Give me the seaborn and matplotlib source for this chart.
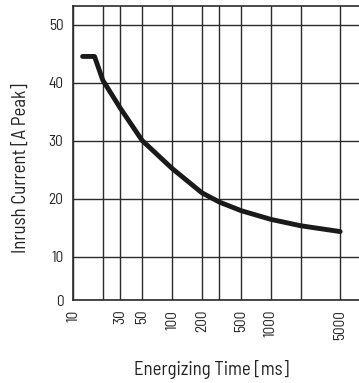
import matplotlib
matplotlib.use("Agg")
import matplotlib.pyplot as plt
import seaborn as sns
import pandas as pd

# values
time_ms = [12.5, 16.5, 20, 30, 50, 100, 200, 300, 500, 1000, 2000, 5000]
current_a = [44.5, 44.5, 40.4, 35.6, 30.0, 25.2, 21.0, 19.4, 17.9, 16.4, 15.3, 14.3]

x_grid = [10, 20, 30, 50, 100, 200, 300, 500, 1000, 2000, 5000]
x_labels = ["10", "", "30", "50", "100", "200", "", "500", "1000", "", "5000"]
y_labels = ["0", "10", "20", "30", "40", "50"]

sns.set_style("white")
plt.rcParams["font.family"] = ["Barlow Semi Condensed", "DejaVu Sans"]

df = pd.DataFrame({"time": time_ms, "current": current_a})

fig = plt.figure(figsize=(3.59, 3.83), dpi=100)
ax = fig.add_axes([73 / 359, 1 - 300 / 383, 1 - 73 / 359, 294 / 383])
sns.lineplot(data=df, x="time", y="current", ax=ax, color="#1a1a1a", linewidth=3.5)

ax.set_xscale("log")
ax.set_xlim(10, 7750)
ax.set_ylim(2.5, 53.2)
ax.set_xticks(x_grid)
ax.set_xticklabels(x_labels, rotation=90)
ax.minorticks_off()
ax.set_yticks([2.5, 10, 20, 30, 40, 50])
ax.set_yticklabels(y_labels)
ax.grid(True, color="#2b2b2b", linewidth=1.0)
ax.tick_params(length=0, labelsize=11, colors="#222222")
ax.tick_params(axis="y", pad=7)
ax.tick_params(axis="x", pad=7)

for side in ["left", "top", "bottom"]:
    ax.spines[side].set_color("#2b2b2b")
    ax.spines[side].set_linewidth(1.2)
ax.spines["right"].set_visible(False)

ax.set_xlabel("Energizing Time [ms]", fontsize=13.5, color="#222222")
ax.set_ylabel("Inrush Current [A Peak]", fontsize=13.5, color="#222222")
ax.xaxis.set_label_coords(0.485, -0.205)
ax.yaxis.set_label_coords(-0.15, 0.45)

fig.savefig("out.png", dpi=100)
